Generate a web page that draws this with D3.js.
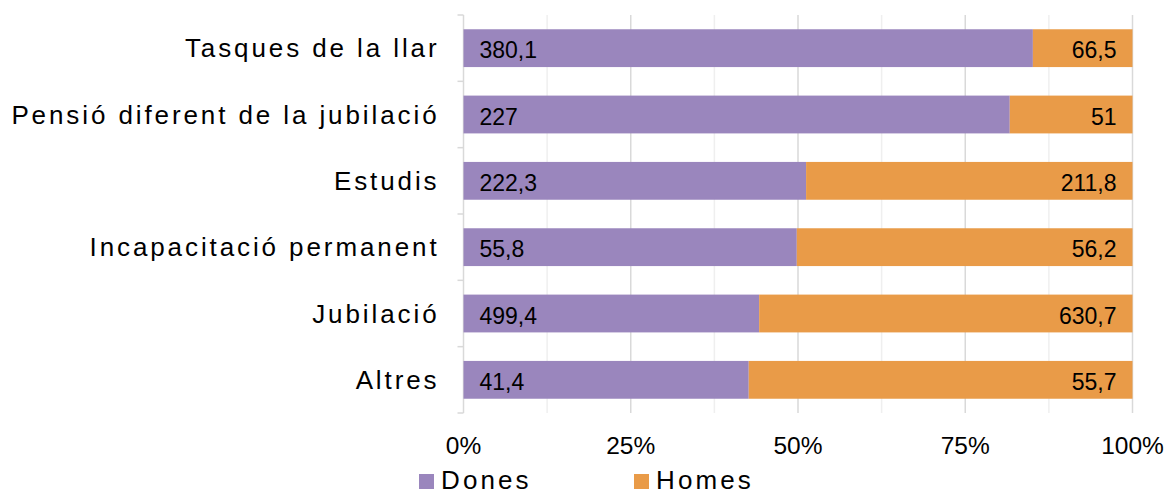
<!DOCTYPE html>
<html>
<head>
<meta charset="utf-8">
<script src="https://cdn.jsdelivr.net/npm/d3@7"></script>
<style>
  body { margin: 0; background: #fff; }
  svg text { font-family: Arial, "Liberation Sans", sans-serif; fill: #000; }
</style>
</head>
<body>
<div id="chart"></div>
<script>
const categories = ["Tasques de la llar", "Pensió diferent de la jubilació", "Estudis",
                    "Incapacitació permanent", "Jubilació", "Altres"];
const dones = [380.1, 227, 222.3, 55.8, 499.4, 41.4];
const homes = [66.5, 51, 211.8, 56.2, 630.7, 55.7];
const seriesNames = ["Dones", "Homes"];
const colors = ["#9a86bd", "#e99b48"];
const tickValues = [0, 0.25, 0.5, 0.75, 1];

const W = 1169, H = 496;
const margin = {top: 15, right: 36.5, bottom: 83, left: 463.5};
const width = W - margin.left - margin.right,
      height = H - margin.top - margin.bottom;

const fmt = v => String(v).replace(".", ",");

const rows = categories.map((c, i) => {
  const total = dones[i] + homes[i];
  return {cat: c, d: dones[i], h: homes[i], pd: dones[i] / total};
});

const svg = d3.select("#chart").append("svg")
    .attr("width", W)
    .attr("height", H)
  .append("g")
    .attr("transform", `translate(${margin.left},${margin.top})`);

const x = d3.scaleLinear().domain([0, 1]).range([0, width]);
const y = d3.scaleBand()
  .domain(categories)
  .range([0, height])
  .paddingInner(0.43)
  .paddingOuter(0.215);

// gridlines every 12.5%
const grid = d3.range(1, 9).map(i => i / 8);
svg.selectAll(".grid")
  .data(grid)
  .join("line")
    .attr("x1", d => x(d)).attr("x2", d => x(d))
    .attr("y1", 0).attr("y2", height)
    .attr("stroke", (d, i) => (i % 2 === 1 ? "#d9d9d9" : "#efefef"))
    .attr("stroke-width", 1.5);

// left axis line with category separators
svg.append("line")
  .attr("x1", 0).attr("x2", 0)
  .attr("y1", 0).attr("y2", height)
  .attr("stroke", "#d9d9d9").attr("stroke-width", 1.5);
svg.selectAll(".sep")
  .data(d3.range(categories.length + 1))
  .join("line")
    .attr("x1", -6).attr("x2", 0)
    .attr("y1", i => i * y.step()).attr("y2", i => i * y.step())
    .attr("stroke", "#d9d9d9").attr("stroke-width", 1.5);

// bars
svg.selectAll(".bar-d")
  .data(rows)
  .join("rect")
    .attr("x", x(0))
    .attr("y", d => y(d.cat))
    .attr("width", d => x(d.pd) - x(0))
    .attr("height", y.bandwidth())
    .attr("fill", colors[0]);
svg.selectAll(".bar-h")
  .data(rows)
  .join("rect")
    .attr("x", d => x(d.pd))
    .attr("y", d => y(d.cat))
    .attr("width", d => x(1) - x(d.pd))
    .attr("height", y.bandwidth())
    .attr("fill", colors[1]);

// value labels
svg.selectAll(".lab-d")
  .data(rows)
  .join("text")
    .attr("x", x(0) + 16)
    .attr("y", d => y(d.cat) + y.bandwidth() / 2 + 10)
    .style("font-size", "23px")
    .text(d => fmt(d.d));
svg.selectAll(".lab-h")
  .data(rows)
  .join("text")
    .attr("x", x(1) - 16)
    .attr("y", d => y(d.cat) + y.bandwidth() / 2 + 10)
    .attr("text-anchor", "end")
    .style("font-size", "23px")
    .text(d => fmt(d.h));

// category labels
svg.selectAll(".cat")
  .data(categories)
  .join("text")
    .attr("x", -24)
    .attr("y", d => y(d) + y.bandwidth() / 2 + 9)
    .attr("text-anchor", "end")
    .style("font-size", "26px")
    .style("letter-spacing", "2.9px")
    .text(d => d);

// x tick labels
svg.selectAll(".tick")
  .data(tickValues)
  .join("text")
    .attr("x", d => x(d))
    .attr("y", 439)
    .attr("text-anchor", "middle")
    .style("font-size", "24.5px")
    .text(d => d3.format(".0%")(d));

// legend
const legX = [419 - margin.left, 634 - margin.left];
const leg = svg.selectAll(".leg")
  .data(seriesNames)
  .join("g")
    .attr("transform", (d, i) => `translate(${legX[i]},${474 - margin.top})`);
leg.append("rect")
  .attr("width", 15).attr("height", 15)
  .attr("fill", (d, i) => colors[i]);
leg.append("text")
  .attr("x", 22)
  .attr("y", 15)
  .style("font-size", "26px")
  .style("letter-spacing", "3.1px")
  .text(d => d);
</script>
</body>
</html>
